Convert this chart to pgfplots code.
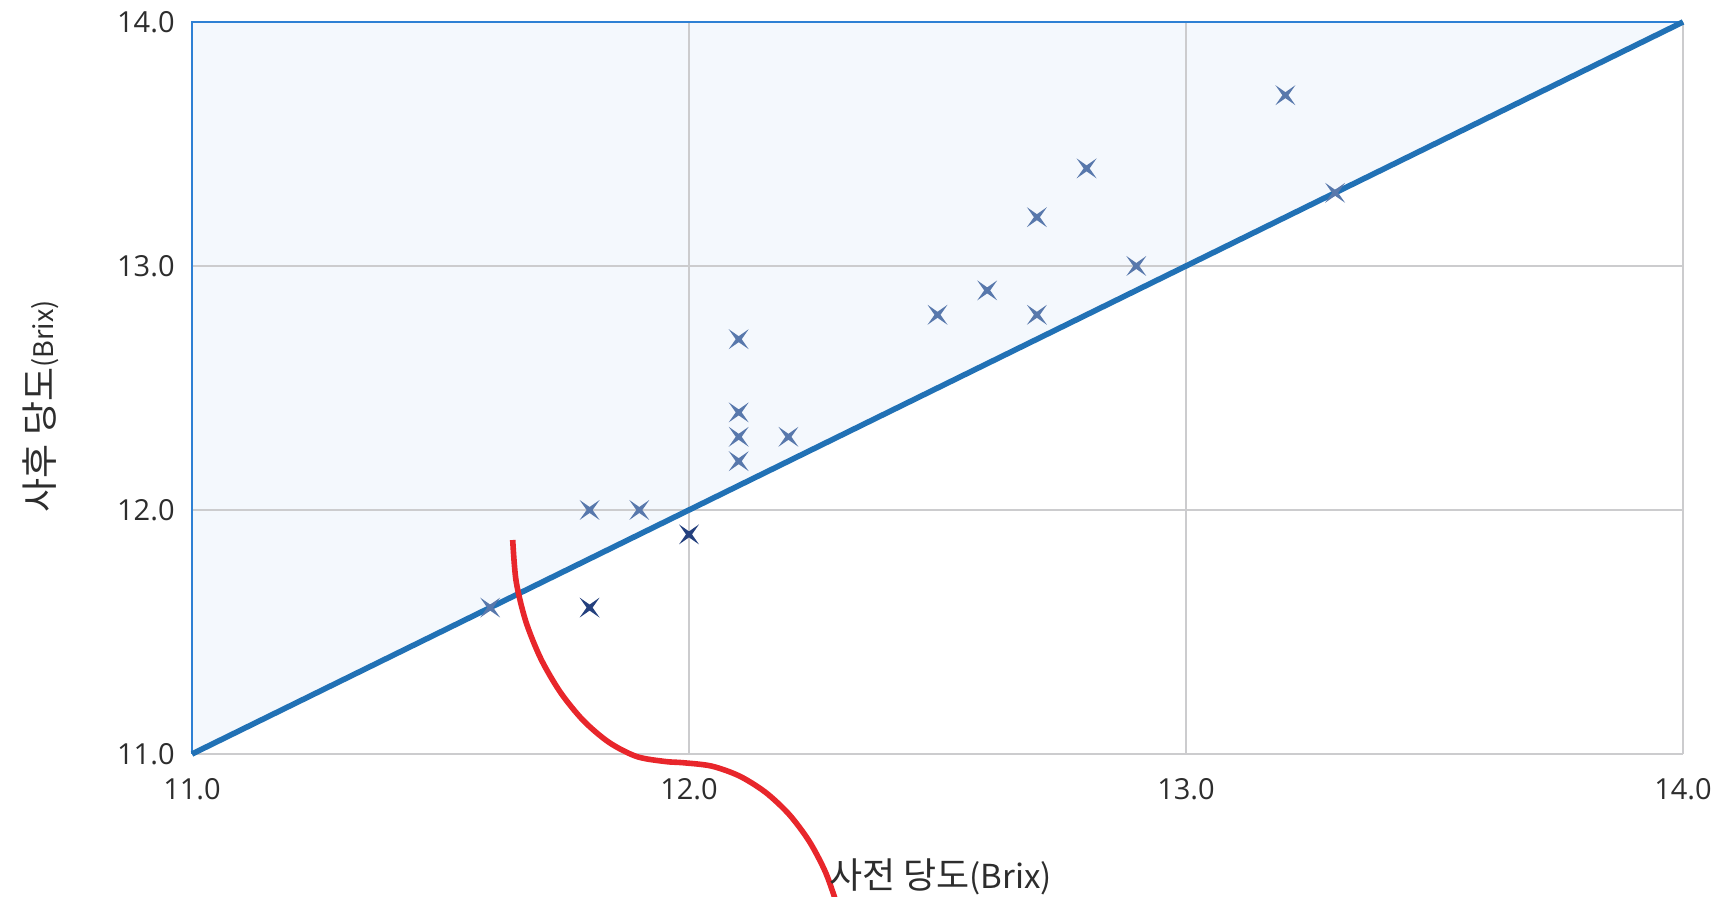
\documentclass[border=0pt]{standalone}
\usepackage{pgfplots}
\pgfplotsset{compat=1.18}
\usepackage{fontspec}
\setmainfont{Open Sans}
\newfontfamily\kr{Noto Sans CJK KR}
\definecolor{fillblue}{RGB}{244,248,253}
\definecolor{edgeblue}{RGB}{46,128,212}
\definecolor{diagblue}{RGB}{33,113,181}
\definecolor{gridgray}{RGB}{204,204,206}
\definecolor{mk}{RGB}{88,120,172}
\definecolor{mkdark}{RGB}{36,64,126}
\definecolor{redline}{RGB}{232,38,43}
\definecolor{txt}{RGB}{45,45,45}
\pgfdeclareplotmark{star4}{%
  \pgfpathmoveto{\pgfqpoint{\pgfplotmarksize}{\pgfplotmarksize}}%
  \pgfpathlineto{\pgfqpoint{0pt}{0.3\pgfplotmarksize}}%
  \pgfpathlineto{\pgfqpoint{-\pgfplotmarksize}{\pgfplotmarksize}}%
  \pgfpathlineto{\pgfqpoint{-0.3\pgfplotmarksize}{0pt}}%
  \pgfpathlineto{\pgfqpoint{-\pgfplotmarksize}{-\pgfplotmarksize}}%
  \pgfpathlineto{\pgfqpoint{0pt}{-0.3\pgfplotmarksize}}%
  \pgfpathlineto{\pgfqpoint{\pgfplotmarksize}{-\pgfplotmarksize}}%
  \pgfpathlineto{\pgfqpoint{0.3\pgfplotmarksize}{0pt}}%
  \pgfpathclose
  \pgfusepathqfill
}
\begin{document}
\begin{tikzpicture}
\begin{axis}[
  name=ax,
  set layers,
  scale only axis,
  width=745.5pt, height=366pt,
  xmin=11, xmax=14, ymin=11, ymax=14,
  xtick={11,12,13,14}, ytick={11,12,13,14},
  grid=major,
  major grid style={draw=gridgray, line width=1.1pt},
  axis line style={draw=none},
  major tick length=0pt,
  clip=false,
  tick label style={font=\fontsize{14.5}{17}\selectfont, text=txt},
  yticklabel style={anchor=east, inner sep=0pt, xshift=-8.5pt},
  xticklabel style={anchor=north, inner sep=0pt, yshift=-12pt},
  /pgf/number format/.cd, fixed, fixed zerofill, precision=1, assume math mode=true,
  /pgfplots/.cd,
  xlabel={{\kr\fontsize{18}{21}\selectfont 사전 당도\fontsize{16.5}{19}\selectfont(Brix)}},
  ylabel={{\kr\fontsize{18.5}{21}\selectfont 사후 당도\fontsize{13.5}{16}\selectfont(Brix)}},
  xlabel style={at={(axis description cs:0.502,-0.168)}, anchor=center, text=txt},
  ylabel style={at={(axis description cs:-0.1013,0.475)}, anchor=center, rotate=0, text=txt},
]
% shaded region above the 1:1 line
\addplot[on layer=axis background, draw=none, fill=fillblue] coordinates {(11,11) (11,14) (14,14)} -- cycle;
\addplot[draw=edgeblue, line width=1pt] coordinates {(11,11) (11,14) (14,14)};
% 1:1 line
\addplot[draw=diagblue, line width=2.8pt] coordinates {(11,11) (14,14)};
% measured points
\addplot[only marks, mark=star4, mark size=5pt, mark options={fill=mk, draw=none}] coordinates {
(11.6,11.6) (11.8,12.0) (11.9,12.0)
(12.1,12.7) (12.1,12.4) (12.1,12.3) (12.1,12.2) (12.2,12.3)
(12.5,12.8) (12.6,12.9) (12.7,13.2) (12.7,12.8) (12.8,13.4)
(12.9,13.0) (13.2,13.7) (13.3,13.3)
};
\addplot[only marks, mark=star4, mark size=5pt, mark options={fill=mkdark, draw=none}] coordinates {
(11.8,11.6) (12.0,11.9)
};
% red annotation curve
\addplot[draw=redline, line width=2.8pt, smooth] coordinates {
(11.6453,11.8770) (11.6522,11.7078) (11.6716,11.5438) (11.7019,11.3904)
(11.7412,11.2530) (11.7875,11.1369) (11.8393,11.0473) (11.8946,10.9897)
(11.9517,10.9693) (11.9879,10.9643) (12.0455,10.9504) (12.1014,10.9098)
(12.1539,10.8430) (12.2014,10.7525) (12.2423,10.6410) (12.2755,10.5115)
(12.3000,10.3684)
};
\end{axis}
\pgfresetboundingbox
\path[use as bounding box] ([xshift=-96pt,yshift=-71.5pt]ax.south west) rectangle ([xshift=21.5pt,yshift=11pt]ax.north east);
\end{tikzpicture}
\end{document}
